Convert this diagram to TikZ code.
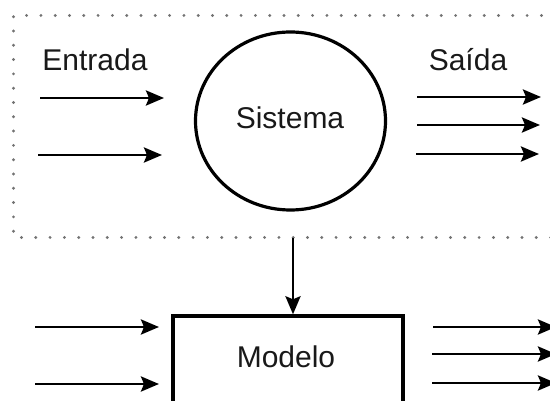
\documentclass[tikz,border=0pt]{standalone}
\usepackage{fontspec}
\setmainfont{Liberation Sans}
\usetikzlibrary{arrows.meta,shapes.geometric}
\begin{document}
\begin{tikzpicture}[x=1pt,y=-1pt,
  lbl/.style={anchor=base,inner sep=0pt,font=\fontsize{30}{36}\selectfont,text=black!90},
  flow/.style={line width=2.8pt,-{Stealth[length=18pt,width=15pt,inset=3pt]}},
  frame/.style={line width=3.2pt,black!55,line cap=round,dash pattern=on 0pt off 14.3pt},
  sys/.style={draw,ellipse,line width=3.2pt,minimum width=190pt,minimum height=178pt,inner sep=0pt},
  modelbox/.style={draw,rectangle,line width=3.4pt,minimum width=230pt,minimum height=140pt,inner sep=0pt}]
\useasboundingbox (0,0) rectangle (550,401);
\clip (0,0) rectangle (550,401);
% dotted frame
\coordinate (fa) at (570,15.5);
\coordinate (fb) at (13.5,15.5);
\coordinate (fc) at (13.5,237.5);
\coordinate (fd) at (570,237.5);
\draw[frame] (fa) -- (fb) -- (fc) -- (fd);
% system
\node[sys] (sistema) at (290.5,121) {};
\node[lbl] (sistematxt) at (290,129) {Sistema};
\node[lbl] (entrada) at (95,71) {Entrada};
\node[lbl] (saida) at (468,71) {Saída};
% input arrows top
\coordinate (i1s) at (40,98);  \coordinate (i1e) at (164,98);
\coordinate (i2s) at (38,155); \coordinate (i2e) at (162,155);
\draw[flow] (i1s) -- (i1e);
\draw[flow] (i2s) -- (i2e);
% output arrows top
\coordinate (o1s) at (417,97);  \coordinate (o1e) at (541,97);
\coordinate (o2s) at (417,125); \coordinate (o2e) at (540,125);
\coordinate (o3s) at (416,154); \coordinate (o3e) at (539,154);
\draw[flow] (o1s) -- (o1e);
\draw[flow] (o2s) -- (o2e);
\draw[flow] (o3s) -- (o3e);
% model
\node[modelbox] (modelo) at (288,386) {};
\node[lbl] (modelotxt) at (286,368) {Modelo};
\coordinate (vs) at (293,238);
\draw[flow] (vs) -- (vs |- modelo.north);
% input arrows bottom
\coordinate (j1s) at (35,327); \coordinate (j1e) at (159,327);
\coordinate (j2s) at (35,384); \coordinate (j2e) at (159,384);
\draw[flow] (j1s) -- (j1e);
\draw[flow] (j2s) -- (j2e);
% output arrows bottom
\coordinate (p1s) at (433,327); \coordinate (p1e) at (556,327);
\coordinate (p2s) at (432,354); \coordinate (p2e) at (556,354);
\coordinate (p3s) at (432,383); \coordinate (p3e) at (556,383);
\draw[flow] (p1s) -- (p1e);
\draw[flow] (p2s) -- (p2e);
\draw[flow] (p3s) -- (p3e);
\end{tikzpicture}
\end{document}
